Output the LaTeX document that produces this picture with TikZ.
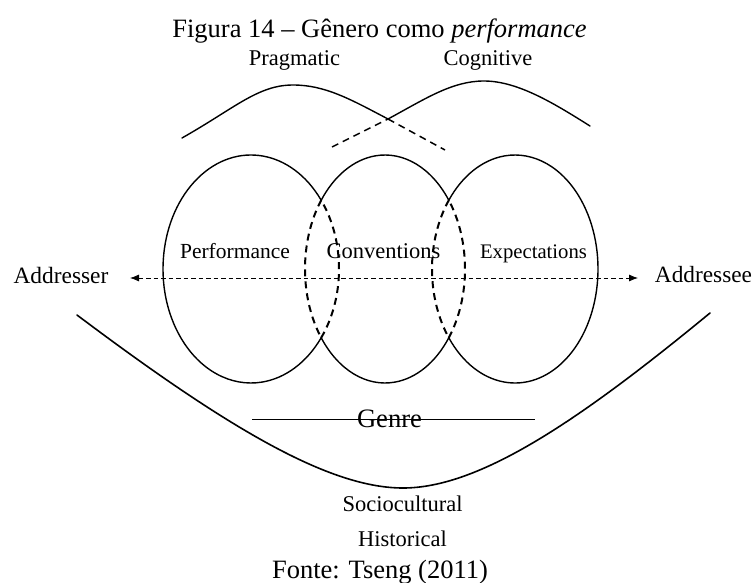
\documentclass[tikz,border=0pt]{standalone}
\usepackage{fontspec}
\setmainfont{Liberation Serif}
\usetikzlibrary{arrows.meta}

\begin{document}
\begin{tikzpicture}[x=1pt,y=1pt,
  lbl/.style={font=\fontsize{22.5}{26}\selectfont, anchor=base, inner sep=0pt},
  capt/.style={font=\fontsize{26.5}{30}\selectfont, anchor=base, inner sep=0pt},
  outline/.style={line width=1.4pt, line cap=round},
  hidden/.style={line width=2pt, dash pattern=on 7pt off 5pt},
  topdash/.style={line width=1.5pt, dash pattern=on 7pt off 5pt},
  flow/.style={line width=0.8pt, dash pattern=on 4.5pt off 3pt,
    {Latex[length=9pt,width=7pt]}-{Latex[length=9pt,width=7pt]}},
  genreline/.style={line width=1pt}]

\useasboundingbox (0,0) rectangle (752,-583);

% caption lines
\node[capt] (title) at (379.5,-38) {Figura 14 -- Gênero como \textit{performance}};
\node[capt] (source) at (380,-578) {Fonte: Tseng (2011)};

% top labels
\node[lbl] (prag) at (294.5,-66) {Pragmatic};
\node[lbl] (cogn) at (488,-66) {Cognitive};

% pragmatic and cognitive humps
\coordinate (cross) at (388,-119);
\coordinate (pragL) at (182,-138);
\coordinate (pragD) at (445,-150);
\coordinate (cognR) at (590,-126);
\coordinate (cognD) at (332,-147);
\draw[outline] (pragL) .. controls (235,-108) and (258,-85) .. (293,-85)
  .. controls (325,-85) and (350,-99) .. (cross);
\draw[outline] (cross) .. controls (425,-99) and (452,-81) .. (484,-81)
  .. controls (518,-81) and (555,-104) .. (cognR);
\draw[topdash] (cross) -- (pragD);
\draw[topdash] (cognD) -- (cross);

% three overlapping ellipses: visible outline solid, hidden arcs dashed
% left ellipse
\draw[outline] (251,-269) ++(37.25:88pt and 114pt)
  arc[start angle=37.25, end angle=322.75, x radius=88pt, y radius=114pt];
\draw[hidden] (251,-269) ++(-37.25:88pt and 114pt)
  arc[start angle=-37.25, end angle=37.25, x radius=88pt, y radius=114pt];
% middle ellipse
\draw[outline] (385,-269) ++(37.25:80pt and 114pt)
  arc[start angle=37.25, end angle=142.75, x radius=80pt, y radius=114pt];
\draw[outline] (385,-269) ++(217.25:80pt and 114pt)
  arc[start angle=217.25, end angle=322.75, x radius=80pt, y radius=114pt];
\draw[hidden] (385,-269) ++(142.75:80pt and 114pt)
  arc[start angle=142.75, end angle=217.25, x radius=80pt, y radius=114pt];
\draw[hidden] (385,-269) ++(-37.25:80pt and 114pt)
  arc[start angle=-37.25, end angle=37.25, x radius=80pt, y radius=114pt];
% right ellipse
\draw[outline] (515,-269) ++(-142.75:83pt and 114pt)
  arc[start angle=-142.75, end angle=142.75, x radius=83pt, y radius=114pt];
\draw[hidden] (515,-269) ++(142.75:83pt and 114pt)
  arc[start angle=142.75, end angle=217.25, x radius=83pt, y radius=114pt];

% ellipse labels
\node[lbl, font=\fontsize{21.5}{25}\selectfont] (perf) at (235,-258) {Performance};
\node[lbl] (conv) at (383.5,-258) {Conventions};
\node[lbl, font=\fontsize{20.7}{24}\selectfont] (expe) at (533.5,-258) {Expectations};

% addresser / addressee
\node[lbl, font=\fontsize{23.4}{27}\selectfont] (adr) at (61,-283) {Addresser};
\node[lbl, font=\fontsize{23.3}{27}\selectfont] (ade) at (703.5,-282) {Addressee};
\coordinate (tipL) at (130,-278);
\coordinate (tipR) at (638,-278);
\draw[flow] (tipL) -- (tipR);

% genre line
\coordinate (gL) at (252,-419);
\coordinate (gR) at (535,-419);
\draw[genreline] (gL) -- (gR);
\node[lbl, font=\fontsize{26.6}{30}\selectfont] (genre) at (389.5,-427) {Genre};

% sociocultural bowl
\coordinate (bowlL) at (77,-315);
\coordinate (bowlR) at (710,-313);
\draw[outline, line width=1.6pt] (bowlL) .. controls (230,-430) and (330,-488) .. (403,-488)
  .. controls (480,-488) and (580,-420) .. (bowlR);

\node[lbl] (socio) at (402.5,-511) {Sociocultural};
\node[lbl] (hist) at (402.5,-546) {Historical};

\end{tikzpicture}
\end{document}
